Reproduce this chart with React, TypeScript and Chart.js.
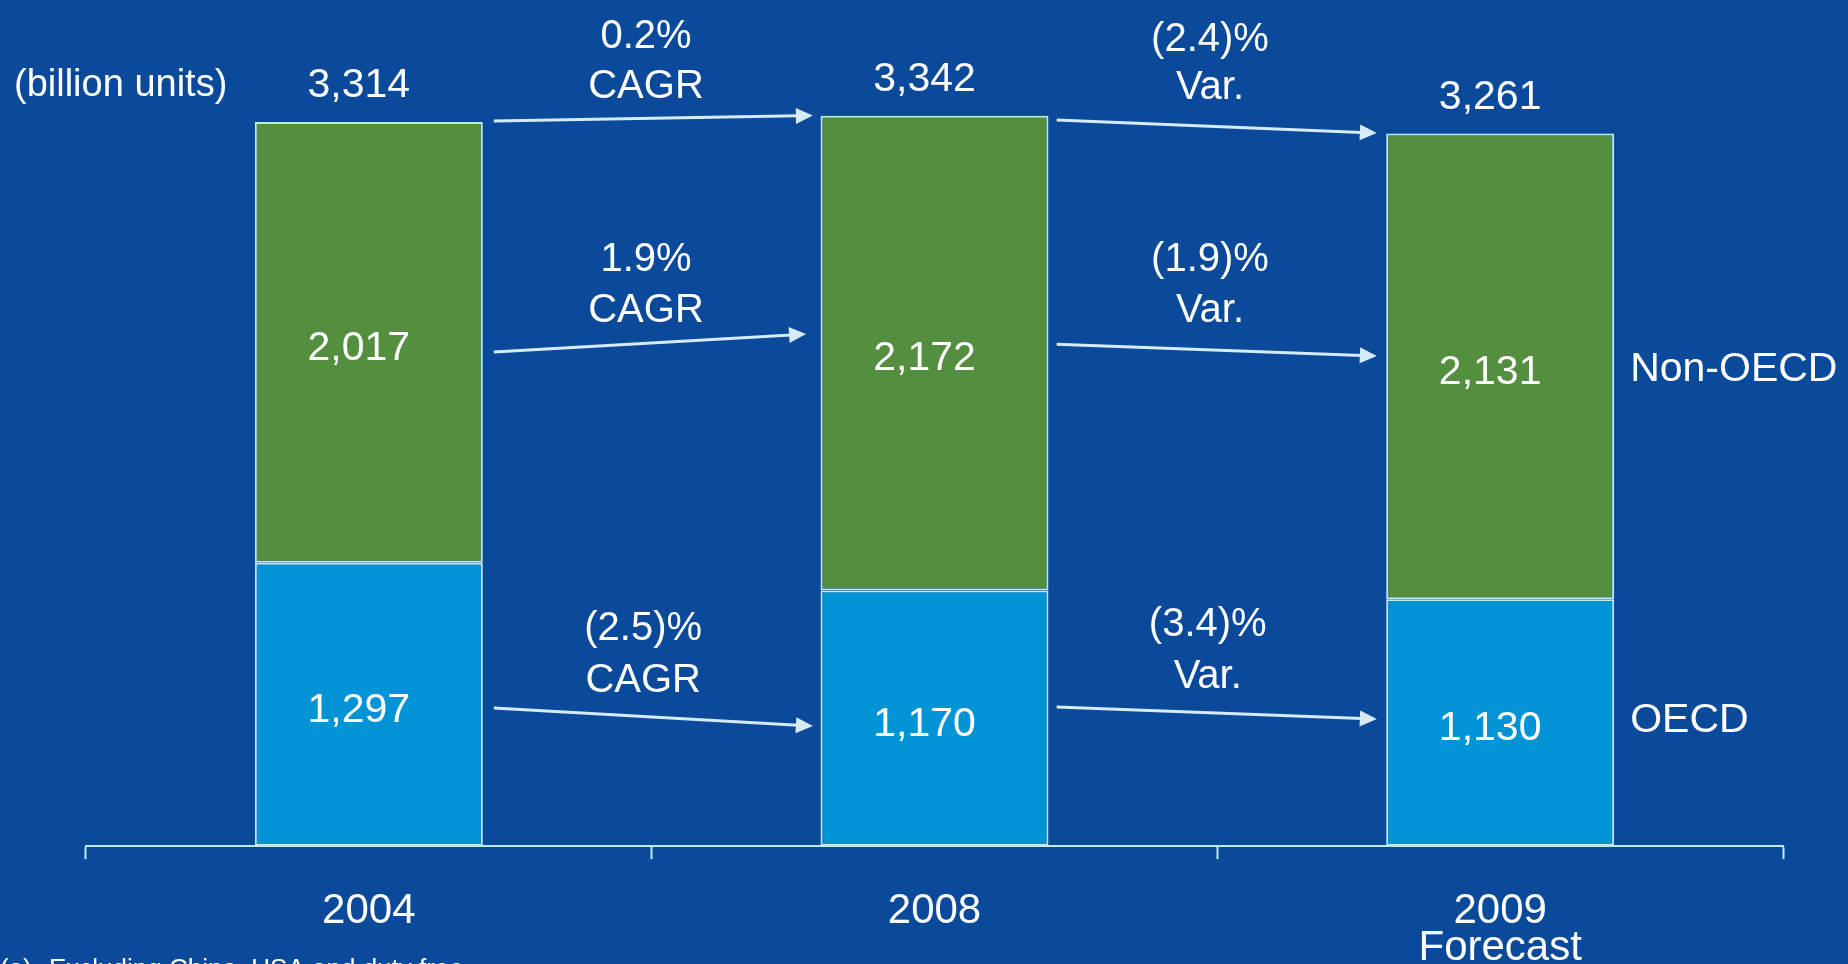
import React, { useEffect, useRef } from "react";
import { Chart, registerables } from "chart.js";

Chart.register(...registerables);

const categories: (string | string[])[] = ["2004", "2008", ["2009", "Forecast"]];
const oecd = [1297, 1170, 1130];
const nonOecd = [2017, 2172, 2131];
const totals = [3314, 3342, 3261];
const seriesNames = ["OECD", "Non-OECD"];
const unitLabel = "(billion units)";
const footnote = ["(a)", "Excluding China, USA and duty free"];

// growth annotations: x in category units, y in data units
const growthText = [
  { x: 0.49, lines: ["0.2%", "CAGR"], ys: [3705, 3472] },
  { x: 1.487, lines: ["(2.4)%", "Var."], ys: [3687, 3468] },
  { x: 0.49, lines: ["1.9%", "CAGR"], ys: [2681, 2447] },
  { x: 1.487, lines: ["(1.9)%", "Var."], ys: [2681, 2447] },
  { x: 0.485, lines: ["(2.5)%", "CAGR"], ys: [992, 754] },
  { x: 1.483, lines: ["(3.4)%", "Var."], ys: [1010, 772] },
];
// arrows: [x0, y0, x1, y1] in category / data units
const arrows = [
  [0.221, 3318, 0.785, 3343],
  [1.216, 3323, 1.782, 3263],
  [0.221, 2261, 0.773, 2343],
  [1.216, 2297, 1.782, 2243],
  [0.221, 632, 0.785, 549],
  [1.216, 636, 1.782, 581],
];

const BG = "#0b4a9a";
const GREEN = "#548e3f";
const LIGHTBLUE = "#0093d6";
const EDGE = "#bfeaf0";
const FONT = "'Liberation Sans', Arial, sans-serif";

export default function App() {
  const ref = useRef<HTMLCanvasElement | null>(null);
  useEffect(() => {
    document.body.style.margin = "0";
    document.body.style.background = BG;
    const canvas = ref.current!;
    const overlay = {
      id: "overlay",
      beforeDraw(chart: any) {
        const ctx = chart.ctx;
        ctx.save();
        ctx.fillStyle = BG;
        ctx.fillRect(0, 0, chart.width, chart.height);
        ctx.restore();
      },
      afterDatasetsDraw(chart: any) {
        const ctx = chart.ctx;
        const xs = chart.scales.x;
        const ys = chart.scales.y;
        ctx.save();
        ctx.fillStyle = "#ffffff";
        ctx.font = `41px ${FONT}`;
        ctx.textAlign = "center";
        ctx.textBaseline = "middle";
        const m0 = chart.getDatasetMeta(0).data;
        const m1 = chart.getDatasetMeta(1).data;
        for (let i = 0; i < categories.length; i++) {
          const b0 = m0[i];
          const b1 = m1[i];
          const cx = b0.x - 10;
          ctx.fillText(oecd[i].toLocaleString("en-US"), cx, (b0.y + b0.base) / 2 + 6);
          ctx.fillText(nonOecd[i].toLocaleString("en-US"), cx, (b1.y + b1.base) / 2 + 6);
          ctx.fillText(totals[i].toLocaleString("en-US"), cx, ys.getPixelForValue(totals[i]) - 36);
        }
        // series labels right of last bar
        const last = categories.length - 1;
        const lb0 = m0[last];
        const lb1 = m1[last];
        const rx = lb0.x + lb0.width / 2 + 16;
        ctx.textAlign = "left";
        ctx.fillText(seriesNames[1], rx, (lb1.y + lb1.base) / 2 + 3);
        ctx.fillText(seriesNames[0], rx, (lb0.y + lb0.base) / 2 - 2);
        // unit label
        ctx.font = `38px ${FONT}`;
        ctx.fillText(unitLabel, 14, ys.getPixelForValue(totals[0]) - 36);
        // growth texts
        ctx.font = `40px ${FONT}`;
        ctx.textAlign = "center";
        for (const g of growthText) {
          const px = xs.getPixelForValue(g.x);
          g.lines.forEach((t, k) => ctx.fillText(t, px, ys.getPixelForValue(g.ys[k])));
        }
        // arrows
        ctx.strokeStyle = "#d6ebf8";
        ctx.fillStyle = "#d6ebf8";
        ctx.lineWidth = 3;
        for (const a of arrows) {
          const x0 = xs.getPixelForValue(a[0]);
          const y0 = ys.getPixelForValue(a[1]);
          const x1 = xs.getPixelForValue(a[2]);
          const y1 = ys.getPixelForValue(a[3]);
          const ang = Math.atan2(y1 - y0, x1 - x0);
          const hl = 17;
          const hw = 8;
          const bx = x1 - hl * Math.cos(ang);
          const by = y1 - hl * Math.sin(ang);
          ctx.beginPath();
          ctx.moveTo(x0, y0);
          ctx.lineTo(bx + 2 * Math.cos(ang), by + 2 * Math.sin(ang));
          ctx.stroke();
          ctx.beginPath();
          ctx.moveTo(x1, y1);
          ctx.lineTo(bx - hw * Math.sin(ang), by + hw * Math.cos(ang));
          ctx.lineTo(bx + hw * Math.sin(ang), by - hw * Math.cos(ang));
          ctx.closePath();
          ctx.fill();
        }
        // footnote
        ctx.fillStyle = "#ffffff";
        ctx.font = `26px ${FONT}`;
        ctx.textAlign = "left";
        ctx.textBaseline = "alphabetic";
        ctx.fillText(footnote[0], 0, 977);
        ctx.fillText(footnote[1], 49, 977);
        ctx.restore();
      },
    };
    const chart = new Chart(canvas, {
      type: "bar",
      data: {
        labels: categories as any,
        datasets: [
          {
            label: seriesNames[0],
            data: oecd,
            backgroundColor: LIGHTBLUE,
            borderColor: EDGE,
            borderWidth: 2,
            borderSkipped: false,
          },
          {
            label: seriesNames[1],
            data: nonOecd,
            backgroundColor: GREEN,
            borderColor: EDGE,
            borderWidth: 2,
            borderSkipped: false,
          },
        ],
      },
      options: {
        animation: false,
        responsive: true,
        maintainAspectRatio: false,
        layout: { padding: { left: 86, right: 65, top: 0, bottom: -37 } },
        datasets: { bar: { barPercentage: 0.403, categoryPercentage: 1 } },
        plugins: { legend: { display: false }, tooltip: { enabled: false } },
        scales: {
          x: {
            stacked: true,
            grid: {
              display: true,
              drawOnChartArea: false,
              drawTicks: true,
              tickLength: 13,
              tickWidth: 2,
              tickColor: EDGE,
              offset: true,
            },
            border: { display: true, color: EDGE, width: 2 },
            ticks: {
              color: "#ffffff",
              font: { family: FONT, size: 42, lineHeight: 0.88 },
              padding: 34,
              maxRotation: 0,
              autoSkip: false,
            },
          },
          y: {
            stacked: true,
            display: false,
            min: 0,
            max: 3872,
          },
        },
      },
      plugins: [overlay],
    });
    return () => chart.destroy();
  }, []);
  return (
    <div style={{ position: "fixed", left: 0, top: 0, width: "1848px", height: "964px", background: BG }}>
      <canvas ref={ref} />
    </div>
  );
}
